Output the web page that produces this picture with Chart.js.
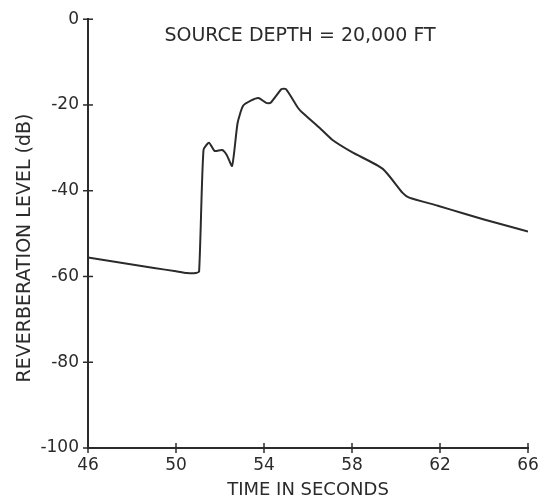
<!DOCTYPE html>
<html>
<head>
<meta charset="utf-8">
<script src="https://cdn.jsdelivr.net/npm/chart.js@4"></script>
<style>
    html, body { margin: 0; padding: 0; background: #fff; }
    #wrap { width: 557px; height: 502px; }
</style>
</head>
<body>
<div id="wrap"><canvas id="reverbChart" width="557" height="502"></canvas></div>
<script>
// Data
const times = [46, 47, 48, 49, 50, 50.5, 50.9, 51.05, 51.25, 51.5, 51.75, 52.1, 52.3, 52.55, 52.8, 53.05, 53.4, 53.75, 54.1, 54.3, 54.8, 55.0, 55.55, 55.75, 56.5, 57.1, 58.0, 59.4, 60.3, 60.6, 61.9, 63.0, 64.0, 65.0, 66.0];
const levels = [-55.6, -56.4, -57.2, -58.0, -58.8, -59.2, -59.2, -58.8, -30.5, -28.8, -30.7, -30.5, -31.6, -34.2, -24.2, -20.2, -19.0, -18.4, -19.5, -19.5, -16.3, -16.3, -20.7, -21.8, -25.2, -28.1, -31.0, -34.9, -40.5, -41.6, -43.5, -45.2, -46.7, -48.1, -49.5];
const xTicks = [46, 50, 54, 58, 62, 66];
const yTicks = [0, -20, -40, -60, -80, -100];

const FONT = 'DejaVu Sans';
const INK = '#2b2b2b';

// Ticks crossing the axis lines, the inner label and the y title
const crossTicks = {
    id: 'crossTicks',
    afterDraw(chart) {
        const ctx = chart.ctx;
        const x = chart.scales.x;
        const y = chart.scales.y;
        ctx.save();
        ctx.strokeStyle = INK;
        ctx.lineWidth = 1.5;
        xTicks.forEach(v => {
            const px = x.getPixelForValue(v);
            ctx.beginPath();
            ctx.moveTo(px, y.bottom - 5);
            ctx.lineTo(px, y.bottom + 5);
            ctx.stroke();
        });
        yTicks.forEach(v => {
            const py = y.getPixelForValue(v);
            ctx.beginPath();
            ctx.moveTo(x.left - 5, py);
            ctx.lineTo(x.left + 5, py);
            ctx.stroke();
        });

        ctx.fillStyle = INK;
        ctx.textAlign = 'center';
        ctx.textBaseline = 'middle';
        ctx.font = '19px "' + FONT + '"';
        ctx.fillText('SOURCE DEPTH = 20,000 FT', 300, 36);

        // y axis title, sits a bit below the axis centre in the original
        ctx.translate(25, 248);
        ctx.rotate(-Math.PI / 2);
        ctx.font = '19px "' + FONT + '"';
        ctx.fillText('REVERBERATION LEVEL (dB)', 0, 0);
        ctx.restore();
    }
};

const ctx = document.getElementById('reverbChart').getContext('2d');

new Chart(ctx, {
    type: 'line',
    data: {
        datasets: [{
            data: times.map((t, i) => ({ x: t, y: levels[i] })),
            borderColor: INK,
            borderWidth: 2,
            pointRadius: 0,
            tension: 0.2,
            fill: false
        }]
    },
    options: {
        responsive: false,
        animation: false,
        layout: {
            padding: { top: 16, right: 29, left: 0, bottom: 0 }
        },
        plugins: {
            legend: { display: false },
            tooltip: { enabled: false }
        },
        scales: {
            x: {
                type: 'linear',
                min: 46,
                max: 66,
                afterBuildTicks: scale => {
                    scale.ticks = xTicks.map(v => ({ value: v }));
                },
                afterFit: scale => { scale.height = 54; },
                grid: { display: false, drawTicks: false },
                border: { display: true, color: INK, width: 2 },
                ticks: {
                    color: INK,
                    padding: 7,
                    font: { family: FONT, size: 17 }
                },
                title: {
                    display: true,
                    text: 'TIME IN SECONDS',
                    color: INK,
                    padding: { top: 0, bottom: 1 },
                    font: { family: FONT, size: 18 }
                }
            },
            y: {
                type: 'linear',
                min: -100,
                max: 0,
                afterBuildTicks: scale => {
                    scale.ticks = yTicks.map(v => ({ value: v }));
                },
                afterFit: scale => { scale.width = 88; },
                grid: { display: false, drawTicks: false },
                border: { display: true, color: INK, width: 2 },
                ticks: {
                    color: INK,
                    padding: 9,
                    font: { family: FONT, size: 17 }
                }
            }
        }
    },
    plugins: [crossTicks]
});
</script>
</body>
</html>
